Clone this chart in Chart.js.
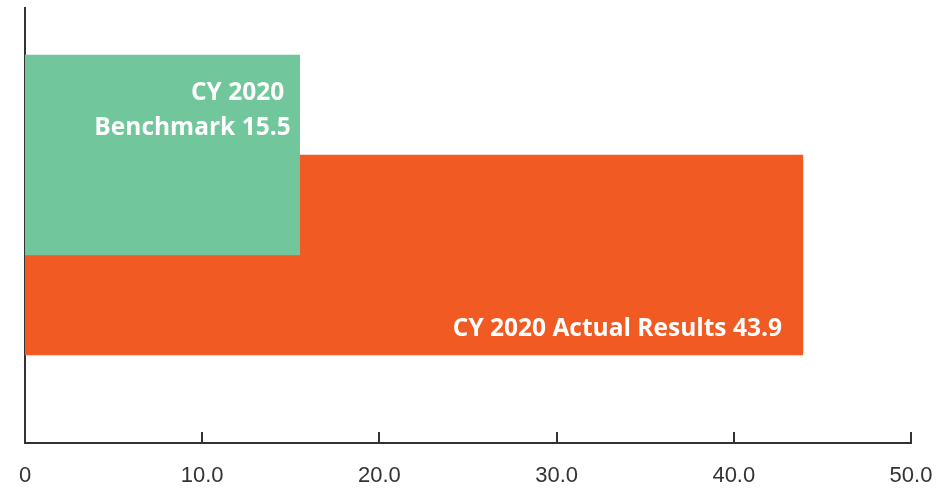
<!DOCTYPE html>
<html><head><meta charset="utf-8">
<script src="https://cdn.jsdelivr.net/npm/chart.js@4.4.0/dist/chart.umd.min.js"></script>
<style>html,body{margin:0;padding:0;background:#fff;} #wrap{width:943px;height:489px;position:relative;}</style>
</head><body><div id="wrap"><canvas id="c" width="943" height="489"></canvas></div>
<script>
const seriesNames = ['CY 2020 Benchmark', 'CY 2020 Actual Results'];
const labelLines = [['CY 2020 ', 'Benchmark'], ['CY 2020 Actual Results']];
const seriesValues = [15.5, 43.9];
const barRows = [1, 2];
const barColors = ['#72C69B', '#F15A22'];
const xTicks = [0, 10, 20, 30, 40, 50];
const xTickLabels = ['0', '10.0', '20.0', '30.0', '40.0', '50.0'];

const AXIS_COLOR = '#333333';

const tickMarks = {
  id: 'tickMarks',
  afterDraw(chart) {
    const xs = chart.scales.x, ctx = chart.ctx;
    ctx.save();
    ctx.strokeStyle = AXIS_COLOR;
    ctx.lineWidth = 2;
    xs.ticks.forEach(t => {
      const px = Math.round(xs.getPixelForValue(t.value));
      ctx.beginPath();
      ctx.moveTo(px, xs.top);
      ctx.lineTo(px, xs.top - 11);
      ctx.stroke();
    });
    ctx.restore();
  }
};

const barLabels = {
  id: 'barLabels',
  afterDatasetsDraw(chart) {
    const ctx = chart.ctx;
    ctx.save();
    ctx.fillStyle = '#ffffff';
    ctx.font = 'bold 24.5px "Open Sans"';
    ctx.textAlign = 'right';
    ctx.textBaseline = 'alphabetic';
    const b0 = chart.getDatasetMeta(0).data[0];
    const l0 = labelLines[0];
    ctx.fillText(l0[0], b0.x - 9, b0.y - 55.5);
    ctx.fillText(l0[1] + ' ' + seriesValues[0].toFixed(1), b0.x - 9, b0.y - 20.5);
    const b1 = chart.getDatasetMeta(1).data[0];
    const l1 = labelLines[1];
    ctx.fillText(l1[0] + ' ' + seriesValues[1].toFixed(1), b1.x - 21, b1.y + 80.5);
    ctx.restore();
  }
};

new Chart(document.getElementById('c'), {
  type: 'bar',
  data: {
    datasets: seriesValues.map((v, i) => ({
      label: seriesNames[i],
      data: [{ x: v, y: barRows[i] }],
      backgroundColor: barColors[i],
      borderWidth: 0,
      barThickness: 200,
      grouped: false
    }))
  },
  options: {
    indexAxis: 'y',
    responsive: false,
    animation: false,
    events: [],
    layout: { padding: { left: 25, right: 32, top: 8, bottom: 0 } },
    plugins: { legend: { display: false }, tooltip: { enabled: false } },
    scales: {
      x: {
        type: 'linear', min: 0, max: 50,
        afterBuildTicks: s => { s.ticks = xTicks.map(v => ({ value: v })); },
        afterFit: s => { s.height = 46; s.paddingRight = 0; s.paddingLeft = 0; },
        ticks: {
          callback: (v, i) => xTickLabels[i],
          font: { family: '"Liberation Sans"', size: 22 },
          color: '#333333', padding: 20, maxRotation: 0, autoSkip: false
        },
        grid: { display: false, drawTicks: false },
        border: { display: true, color: AXIS_COLOR, width: 2 }
      },
      y: {
        type: 'linear', reverse: true, offset: false, bounds: 'data',
        min: -0.47, max: 3.88,
        ticks: { display: false },
        grid: { display: false, drawTicks: false, offset: false },
        border: { display: true, color: AXIS_COLOR, width: 2 }
      }
    }
  },
  plugins: [tickMarks, barLabels]
});
</script>
</body></html>
